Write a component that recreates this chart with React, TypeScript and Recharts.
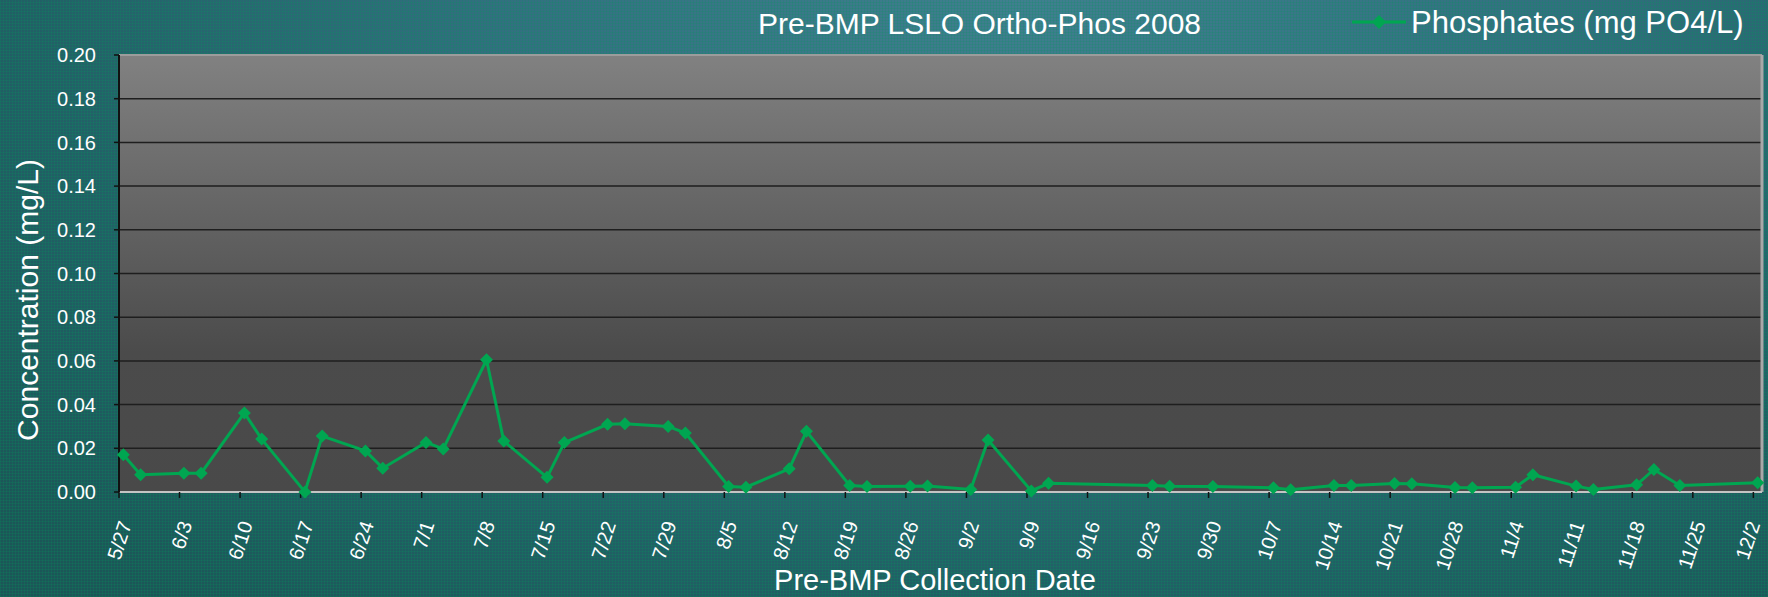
import React from 'react'
import { LineChart, Line, XAxis, YAxis, CartesianGrid, ReferenceLine } from 'recharts'

// sample dates (2008) and ortho-phosphate readings
const sampleDates = [
  '5/27', '5/29', '6/3', '6/5', '6/10', '6/12', '6/17', '6/19', '6/24', '6/26',
  '7/1', '7/3', '7/8', '7/10', '7/15', '7/17', '7/22', '7/24', '7/29', '7/31',
  '8/5', '8/7', '8/12', '8/14', '8/19', '8/21', '8/26', '8/28', '9/2', '9/4',
  '9/9', '9/11', '9/23', '9/25', '9/30', '10/7', '10/9', '10/14', '10/16', '10/21',
  '10/23', '10/28', '10/30', '11/4', '11/6', '11/11', '11/13', '11/18', '11/20', '11/23',
  '12/2',
]
const phosphates = [
  0.017, 0.0079, 0.0086, 0.0086, 0.0362, 0.0242, 0.0, 0.0256, 0.0188, 0.0109,
  0.0227, 0.0197, 0.0605, 0.0233, 0.0067, 0.0226, 0.031, 0.0312, 0.03, 0.027,
  0.0025, 0.0022, 0.0106, 0.0278, 0.003, 0.0025, 0.0026, 0.0028, 0.0012, 0.0238,
  0.0005, 0.004, 0.003, 0.0026, 0.0025, 0.0019, 0.001, 0.003, 0.003, 0.0039,
  0.0038, 0.0021, 0.002, 0.0022, 0.0079, 0.0027, 0.0012, 0.0033, 0.0103, 0.003,
  0.0042,
]
const yTicks = [0, 0.02, 0.04, 0.06, 0.08, 0.1, 0.12, 0.14, 0.16, 0.18, 0.2]
const startDate = '5/27'
const endDate = '12/3'

const FONT = '"Liberation Sans", Arial, Helvetica, sans-serif'
const GREEN = '#00a651'

const toUtc = (md: string) => {
  const [m, d] = md.split('/').map(Number)
  return Date.UTC(2008, m - 1, d)
}
const DAY = 86400000
const dayOf = (md: string) => Math.round((toUtc(md) - toUtc(startDate)) / DAY)
const totalDays = dayOf(endDate)
const xTicks: number[] = []
for (let d = 0; d < totalDays; d += 7) xTicks.push(d)

const labelFor = (day: number) => {
  const dt = new Date(toUtc(startDate) + day * DAY)
  return `${dt.getUTCMonth() + 1}/${dt.getUTCDate()}`
}

// Excel date axis puts each point in the middle of its day slot
const data = sampleDates.map((d, i) => ({ x: dayOf(d) + 0.5, value: phosphates[i] }))

const Diamond = (props: any) => {
  const { cx, cy, index } = props
  if (cx == null || cy == null) return <g key={index} />
  const r = 6.5
  return (
    <polygon
      key={index}
      points={`${cx},${cy - r} ${cx + r},${cy} ${cx},${cy + r} ${cx - r},${cy}`}
      fill={GREEN}
    />
  )
}

const DateTick = (props: any) => {
  const { x, y, payload } = props
  // last label is nudged left so it stays inside the picture, like the original
  const ax = x + (x > 1740 ? 7 : 13)
  const ay = y + 24
  return (
    <text
      x={ax}
      y={ay}
      transform={`rotate(-72, ${ax}, ${ay})`}
      textAnchor="end"
      fill="#ffffff"
      fontSize={20}
      fontFamily={FONT}
    >
      {labelFor(payload.value)}
    </text>
  )
}

export default function App() {
  return (
    <div
      style={{
        position: 'absolute',
        left: 0,
        top: 0,
        width: 1768,
        height: 597,
        overflow: 'hidden',
        background:
          'repeating-linear-gradient(90deg, rgba(0,150,90,0.2) 0 1px, rgba(0,0,0,0) 1px 3px), ' +
          'repeating-linear-gradient(0deg, rgba(0,150,90,0.2) 0 1px, rgba(0,0,0,0) 1px 3px), ' +
          'radial-gradient(ellipse 75% 130% at 58% 0%, #417f90 0%, #336f80 40%, #225f66 75%, #1c5658 100%)',
      }}
    >
      <svg width={0} height={0} style={{ position: 'absolute' }}>
        <defs>
          <linearGradient id="plotFill" x1="0" y1="0" x2="0" y2="1">
            <stop offset="0%" stopColor="#818181" />
            <stop offset="35%" stopColor="#656565" />
            <stop offset="68%" stopColor="#4b4b4b" />
            <stop offset="100%" stopColor="#494949" />
          </linearGradient>
        </defs>
      </svg>

      <svg width={1768} height={597} style={{ position: 'absolute', left: 0, top: 0 }}>
        <text x={758} y={34} fill="#fff" fontSize={30} fontFamily={FONT}>
          Pre-BMP LSLO Ortho-Phos 2008
        </text>
        <text x={935} y={590} fill="#fff" fontSize={29} fontFamily={FONT} textAnchor="middle">
          Pre-BMP Collection Date
        </text>
        <text
          x={38}
          y={300}
          fill="#fff"
          fontSize={30}
          fontFamily={FONT}
          textAnchor="middle"
          transform="rotate(-90, 38, 300)"
        >
          Concentration (mg/L)
        </text>
        <line x1={1352} y1={22} x2={1406} y2={22} stroke={GREEN} strokeWidth={3} />
        <polygon points="1379,15 1386,22 1379,29 1372,22" fill={GREEN} />
        <text x={1411} y={33} fill="#fff" fontSize={31} fontFamily={FONT}>
          Phosphates (mg PO4/L)
        </text>
      </svg>

      <div style={{ position: 'absolute', left: 0, top: 0 }}>
        <LineChart
          width={1768}
          height={597}
          data={data}
          margin={{ top: 55, right: 6, bottom: 0, left: 0 }}
        >
          <CartesianGrid
            horizontal
            vertical={false}
            stroke="#1e1e1e"
            strokeWidth={1.5}
            fill="url(#plotFill)"
            fillOpacity={1}
          />
          <XAxis
            type="number"
            dataKey="x"
            domain={[0, totalDays]}
            ticks={xTicks}
            interval={0}
            tick={<DateTick />}
            tickSize={6}
            tickLine={{ stroke: '#111', strokeWidth: 1.5 }}
            axisLine={{ stroke: '#c4c4c4', strokeWidth: 2 }}
            height={105}
          />
          <YAxis
            type="number"
            domain={[0, 0.2]}
            ticks={yTicks}
            interval={0}
            width={119}
            tickFormatter={(v: number) => v.toFixed(2)}
            tick={{ fill: '#fff', fontSize: 20, fontFamily: FONT }}
            tickSize={5}
            tickMargin={18}
            tickLine={{ stroke: '#111', strokeWidth: 1.5 }}
            axisLine={{ stroke: '#111', strokeWidth: 2 }}
          />
          <ReferenceLine y={0.2} stroke="#9c9c9c" strokeWidth={2} />
          <ReferenceLine x={totalDays} stroke="#a8a8a8" strokeWidth={3} />
          <Line
            type="linear"
            dataKey="value"
            stroke={GREEN}
            strokeWidth={3}
            dot={<Diamond />}
            activeDot={false}
            isAnimationActive={false}
          />
        </LineChart>
      </div>
    </div>
  )
}
